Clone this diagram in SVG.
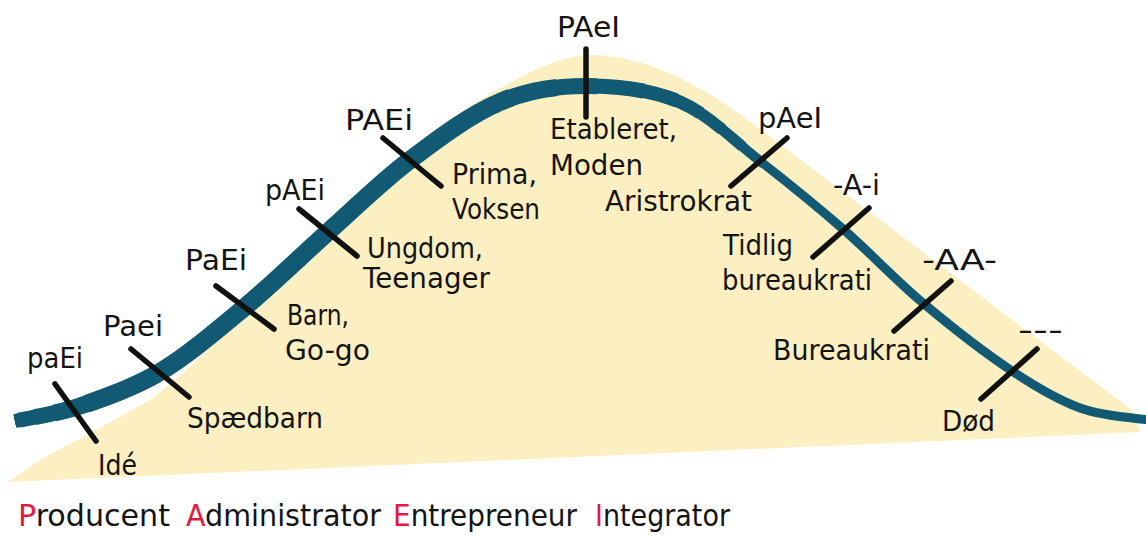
<svg xmlns="http://www.w3.org/2000/svg" width="1146" height="536" viewBox="0 0 1146 536">
<style>
.lbl{font-family:"DejaVu Sans","Liberation Sans",sans-serif;font-size:28.5px;fill:#141414}
.leg{font-family:"DejaVu Sans","Liberation Sans",sans-serif;font-size:30px;fill:#141414}
.red{fill:#e5193f}
.tick{stroke:#111;stroke-width:5.5;stroke-linecap:round;fill:none}
.cv{fill:none;stroke:#125a74;stroke-linecap:butt}
</style>
<defs>
<path id="curvePath" pathLength="1000" d="M15,421 C25.8,418.5 55.8,414.2 80,406 C104.2,397.8 132.5,388.5 160,372 C187.5,355.5 217,330.3 245,307 C273,283.7 300.5,256.5 328,232 C355.5,207.5 381.3,181.7 410,160 C438.7,138.3 470.7,114.3 500,102 C529.3,89.7 556,86 586,86 C616,86 651,89.5 680,102 C709,114.5 732.8,139.8 760,161 C787.2,182.2 815.8,205.3 843,229 C870.2,252.7 894.8,279.3 923,303 C951.2,326.7 985.8,353.5 1012,371 C1038.2,388.5 1057.7,399.8 1080,408 C1102.3,416.2 1135,418 1150,420"/>
</defs>
<rect x="0" y="0" width="1146" height="536" fill="#ffffff"/>
<path id="hill" fill="#fcefc2" d="M8,482 L43,458 L100,428 L150,400 L180,376 L205,352 C225,332 240,318 255,302 C275,282 292,260 310,240 C350,200 420,135 480,100 C530,70 560,56 590,55 C640,55 690,78 745,118 L1132,410 L1140,432 Z"/>
<g id="connectors">
<use href="#curvePath" class="cv" stroke-width="9"/>
<use href="#curvePath" class="cv" stroke-width="10" stroke-dasharray="650 2000"/>
<use href="#curvePath" class="cv" stroke-width="11" stroke-dasharray="630 2000"/>
<use href="#curvePath" class="cv" stroke-width="12" stroke-dasharray="610 2000"/>
<use href="#curvePath" class="cv" stroke-width="13" stroke-dasharray="590 2000"/>
<use href="#curvePath" class="cv" stroke-width="14" stroke-dasharray="570 2000"/>
<use href="#curvePath" class="cv" stroke-width="15" stroke-dasharray="0 3 542 2000"/>
<use href="#curvePath" class="cv" stroke-width="16" stroke-dasharray="0 15 495 2000"/>
<use href="#curvePath" class="cv" stroke-width="17" stroke-dasharray="0 30 450 2000"/>
<use href="#curvePath" class="cv" stroke-width="18" stroke-dasharray="0 55 390 2000"/>
</g>
<g id="node-ide">
<line class="tick" x1="55" y1="384" x2="96" y2="441"/>
<text class="lbl" x="27" y="368" textLength="56" lengthAdjust="spacingAndGlyphs">paEi</text>
<text class="lbl" x="98" y="475" textLength="39" lengthAdjust="spacingAndGlyphs">Idé</text>
</g>
<g id="node-spaedbarn">
<line class="tick" x1="131" y1="349" x2="189" y2="397"/>
<text class="lbl" x="103" y="336" textLength="60" lengthAdjust="spacingAndGlyphs">Paei</text>
<text class="lbl" x="187" y="428" textLength="136" lengthAdjust="spacingAndGlyphs">Spædbarn</text>
</g>
<g id="node-barn">
<line class="tick" x1="216" y1="286" x2="274" y2="329"/>
<text class="lbl" x="185" y="270" textLength="62" lengthAdjust="spacingAndGlyphs">PaEi</text>
<text class="lbl" x="287" y="325" textLength="62" lengthAdjust="spacingAndGlyphs">Barn,</text>
<text class="lbl" x="285" y="360" textLength="85" lengthAdjust="spacingAndGlyphs">Go-go</text>
</g>
<g id="node-ungdom">
<line class="tick" x1="299" y1="209" x2="357" y2="256"/>
<text class="lbl" x="265" y="200" textLength="60" lengthAdjust="spacingAndGlyphs">pAEi</text>
<text class="lbl" x="367" y="258" textLength="116" lengthAdjust="spacingAndGlyphs">Ungdom,</text>
<text class="lbl" x="363" y="288" textLength="127" lengthAdjust="spacingAndGlyphs">Teenager</text>
</g>
<g id="node-prima">
<line class="tick" x1="383" y1="138" x2="441" y2="186"/>
<text class="lbl" x="345" y="130" textLength="68" lengthAdjust="spacingAndGlyphs">PAEi</text>
<text class="lbl" x="452" y="184" textLength="85" lengthAdjust="spacingAndGlyphs">Prima,</text>
<text class="lbl" x="452" y="219" textLength="88" lengthAdjust="spacingAndGlyphs">Voksen</text>
</g>
<g id="node-etableret">
<line class="tick" x1="586" y1="49" x2="586" y2="117"/>
<text class="lbl" x="557" y="37" textLength="63" lengthAdjust="spacingAndGlyphs">PAeI</text>
<text class="lbl" x="550" y="139" textLength="127" lengthAdjust="spacingAndGlyphs">Etableret,</text>
<text class="lbl" x="550" y="175" textLength="93" lengthAdjust="spacingAndGlyphs">Moden</text>
</g>
<g id="node-aristokrat">
<line class="tick" x1="787" y1="138" x2="731" y2="186"/>
<text class="lbl" x="758" y="128" textLength="64" lengthAdjust="spacingAndGlyphs">pAeI</text>
<text class="lbl" x="605" y="211" textLength="147" lengthAdjust="spacingAndGlyphs">Aristrokrat</text>
</g>
<g id="node-tidlig">
<line class="tick" x1="869" y1="208" x2="813" y2="257"/>
<text class="lbl" x="833" y="195" textLength="47" lengthAdjust="spacingAndGlyphs">-A-i</text>
<text class="lbl" x="723" y="255" textLength="70" lengthAdjust="spacingAndGlyphs">Tidlig</text>
<text class="lbl" x="722" y="290" textLength="150" lengthAdjust="spacingAndGlyphs">bureaukrati</text>
</g>
<g id="node-bureaukrati">
<line class="tick" x1="951" y1="281" x2="894" y2="331"/>
<text class="lbl" x="922" y="270" textLength="75" lengthAdjust="spacingAndGlyphs">-AA-</text>
<text class="lbl" x="773" y="360" textLength="157" lengthAdjust="spacingAndGlyphs">Bureaukrati</text>
</g>
<g id="node-dod">
<line class="tick" x1="1037" y1="349" x2="981" y2="399"/>
<text class="lbl" x="1018" y="340" textLength="45" lengthAdjust="spacingAndGlyphs">---</text>
<text class="lbl" x="942" y="431" textLength="53" lengthAdjust="spacingAndGlyphs">Død</text>
</g>
<g id="legend">
<text class="leg" x="18" y="526" textLength="152" lengthAdjust="spacingAndGlyphs"><tspan class="red">P</tspan>roducent</text>
<text class="leg" x="186" y="526" textLength="195" lengthAdjust="spacingAndGlyphs"><tspan class="red">A</tspan>dministrator</text>
<text class="leg" x="393" y="526" textLength="184" lengthAdjust="spacingAndGlyphs"><tspan class="red">E</tspan>ntrepreneur</text>
<text class="leg" x="595" y="526" textLength="135" lengthAdjust="spacingAndGlyphs"><tspan class="red">I</tspan>ntegrator</text>
</g>
</svg>
